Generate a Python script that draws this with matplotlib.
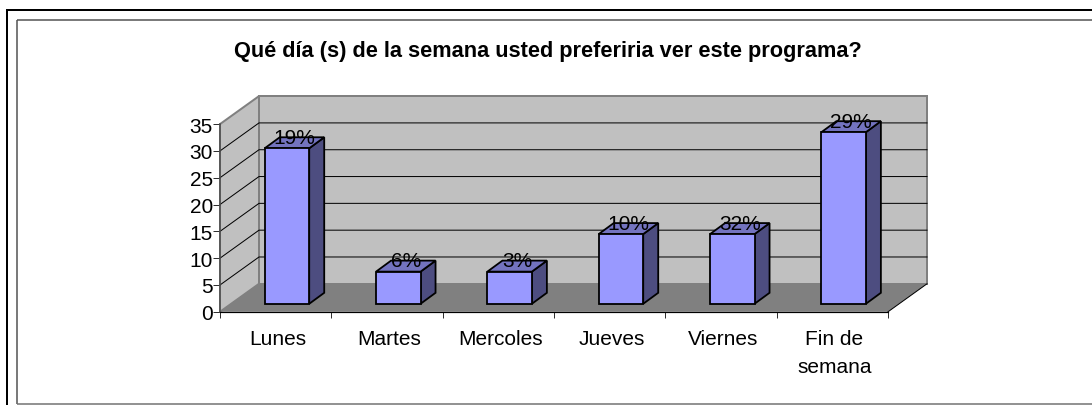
import matplotlib
matplotlib.use("Agg")
import matplotlib.pyplot as plt
from matplotlib.patches import Polygon
from matplotlib.lines import Line2D

categories = ["Lunes", "Martes", "Mercoles", "Jueves", "Viernes", "Fin de\nsemana"]
values = [29, 6, 6, 13, 13, 32]
point_labels = ["19%", "6%", "3%", "10%", "32%", "29%"]
y_ticks = [0, 5, 10, 15, 20, 25, 30, 35]
title = "Qué día (s) de la semana usted preferiria ver este programa?"

W, H = 1092, 406
plt.rcParams["font.family"] = ["Liberation Sans", "DejaVu Sans"]
fig = plt.figure(figsize=(W / 100, H / 100), dpi=100)
px = 100 / 72  # pixels per point

# Front plane of the pseudo-3D box, in pixels
L, R, B, T = 220, 888, 312.8, 125.1
ax = fig.add_axes([L / W, 1 - B / H, (R - L) / W, (B - T) / H])
ax.set_xlim(0, len(categories))
ax.set_ylim(0, 35)
ax.patch.set_visible(False)
ux = (R - L) / len(categories)
uy = (B - T) / 35


def dx(p):
    return p / ux


def dy(p):
    return p / uy


DX, DY = dx(39), dy(28)
n = len(categories)

# Walls and floor
ax.add_patch(Polygon([(0, 0), (DX, DY), (DX, 35 + DY), (0, 35)], fc="#C0C0C0", ec="#808080", lw=2 / px, clip_on=False, zorder=1))
ax.add_patch(Polygon([(DX, DY), (n + DX, DY), (n + DX, 35 + DY), (DX, 35 + DY)], fc="#C0C0C0", ec="#808080", lw=2 / px, clip_on=False, zorder=1))
ax.add_patch(Polygon([(0, 0), (n, 0), (n + DX, DY), (DX, DY)], fc="#808080", ec="none", clip_on=False, zorder=2))
ax.plot([n, n + DX], [0, DY], color="#000000", lw=1 / px, clip_on=False, zorder=2.5)

# Gridlines
for v in y_ticks[1:-1]:
    ax.plot([0, DX, n + DX], [v, v + DY, v + DY], color="#000000", lw=1.0 / px, clip_on=False, zorder=1.5)

# Bars
bw = 44.5 / ux
bx = dx(11.3)
by = dy(8)
sx, sy = dx(15), dy(11)
for i, v in enumerate(values):
    x0 = i + 0.5 + bx - bw / 2
    x1 = x0 + bw
    y0, y1 = by, by + v
    kw = dict(ec="#000000", lw=1.8 / px, joinstyle="miter", clip_on=False, zorder=3)
    ax.add_patch(Polygon([(x1, y0), (x1 + sx, y0 + sy), (x1 + sx, y1 + sy), (x1, y1)], fc="#4D4D80", **kw))
    ax.add_patch(Polygon([(x0, y1), (x1, y1), (x1 + sx, y1 + sy), (x0 + sx, y1 + sy)], fc="#7373BF", **kw))
    ax.add_patch(Polygon([(x0, y0), (x1, y0), (x1, y1), (x0, y1)], fc="#9999FF", **kw))
    ax.text((x0 + x1 + sx) / 2, y1 + sy, point_labels[i], ha="center", va="center",
            fontsize=15, color="#000000", zorder=4, clip_on=False)

# Axes
for s in ("top", "right"):
    ax.spines[s].set_visible(False)
ax.spines["left"].set(color="#505050", linewidth=1.6 / px, zorder=5)
ax.spines["bottom"].set(color="#000000", linewidth=1.2 / px, zorder=5)
ax.set_yticks(y_ticks)
ax.tick_params(axis="y", length=7 / px, width=1 / px, color="#303030", labelsize=15, pad=0)
ax.set_xticks(range(n + 1))
ax.set_xticklabels([])
ax.tick_params(axis="x", which="major", length=6 / px, width=1 / px, color="#303030")
ax.set_xticks([i + 0.5 + dx(2) for i in range(n)], minor=True)
ax.set_xticklabels(categories, minor=True, fontsize=15, linespacing=1.59)
ax.tick_params(axis="x", which="minor", length=0, pad=12.5)

# Title
fig.text(548 / W, 1 - 51 / H, title, ha="center", va="center", fontsize=15.7, fontweight="bold", color="#000000")

# Frame lines
def frame(x0, y0, x1, y1, color, lw):
    fig.add_artist(Line2D([x0 / W, x1 / W], [1 - y0 / H, 1 - y1 / H], color=color, lw=lw / px, solid_capstyle="butt"))


frame(7, 10, 7, H, "#000000", 2)
frame(6, 11, W, 11, "#000000", 2)
frame(17, 20.5, 17, 405, "#505050", 1.5)
frame(16.5, 21, W, 21, "#505050", 1.5)
frame(17, 405, W, 405, "#707070", 1.5)

fig.savefig("out.png", dpi=100)
